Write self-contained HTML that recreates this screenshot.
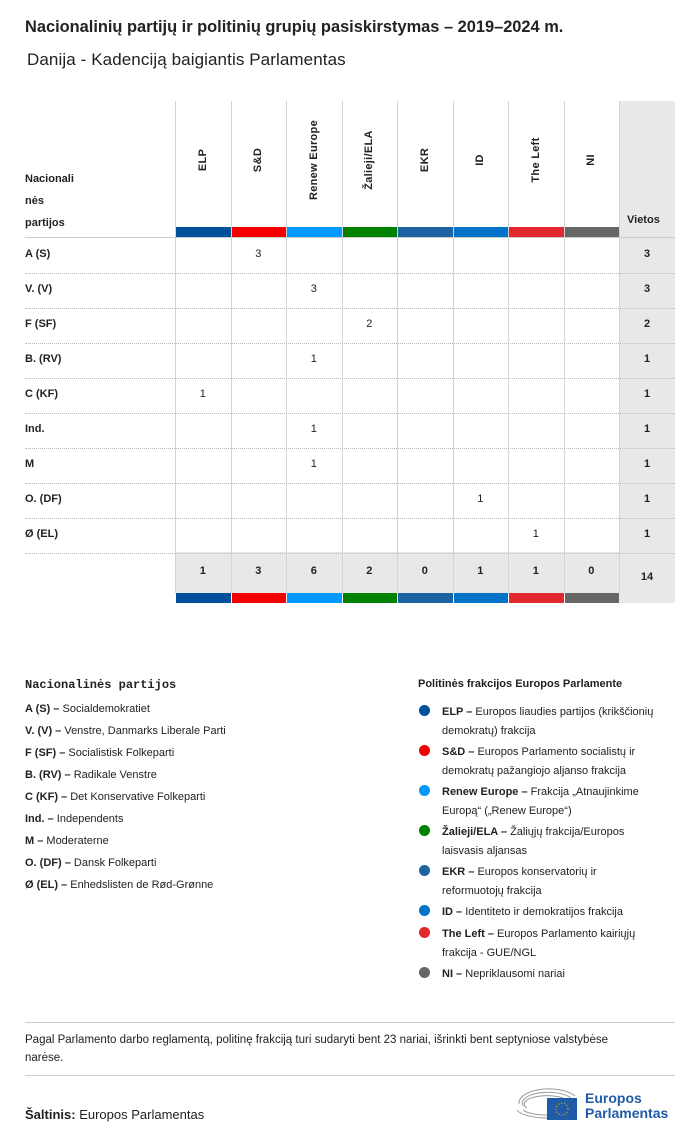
<!DOCTYPE html>
<html><head><meta charset="utf-8"><style>
body{margin:0;width:700px;height:1140px;background:#fff;font-family:"Liberation Sans",sans-serif;color:#222;position:relative;overflow:hidden}
.a{position:absolute}
.t{font-size:11px}
.b{font-weight:bold}
</style></head><body>
<div class="a b" style="left:25px;top:18px;font-size:16.4px">Nacionalinių partijų ir politinių grupių pasiskirstymas – 2019–2024 m.</div>
<div class="a" style="left:27px;top:50px;font-size:17px;letter-spacing:0.1px">Danija - Kadenciją baigiantis Parlamentas</div>
<div id="tbl"></div>
<div class="a b" style="left:25px;top:678px;font-size:12px;font-family:'Liberation Mono',monospace">Nacionalinės partijos</div>
<div id="pl"></div>
<div class="a b t" style="left:418px;top:678px">Politinės frakcijos Europos Parlamente</div>
<div id="gl"></div>
<div class="a" style="left:25px;top:1022px;width:650px;border-top:1px solid #ccc"></div>
<div class="a" style="left:25px;top:1031px;width:600px;line-height:18px;font-size:11.5px">Pagal Parlamento darbo reglamentą, politinę frakciją turi sudaryti bent 23 nariai, išrinkti bent septyniose valstybėse narėse.</div>
<div class="a" style="left:25px;top:1075px;width:650px;border-top:1px solid #ccc"></div>
<div class="a" style="left:25px;top:1107px;font-size:13px"><b>Šaltinis:</b> Europos Parlamentas</div>
<div class="a" style="left:515px;top:1084px">
<svg width="70" height="38"><g fill="none" stroke="#999" stroke-width="1"><path d="M4 20 A30 14 0 0 1 60 12"/><path d="M8 22 A26 11 0 0 1 56 14"/><path d="M12 24 A22 8 0 0 1 52 16"/><path d="M2 26 A32 10 0 0 0 34 34"/><path d="M8 26 A26 7 0 0 0 34 31"/></g><rect x="32" y="14" width="30" height="22" fill="#1f5ba8"/><circle cx="47" cy="25" r="6" fill="none" stroke="#fc0" stroke-dasharray="1 2"/></svg></div>
<div class="a b" style="left:585px;top:1091px;font-size:14px;color:#1f5ba8;line-height:15px">Europos<br>Parlamentas</div>
<script>
const groups=["ELP","S&D","Renew Europe","Žalieji/ELA","EKR","ID","The Left","NI"];
const colors=["#00519b","#f40000","#0099ff","#008200","#1c64a1","#0073c8","#e1282d","#666666"];
const parties=["A (S)","V. (V)","F (SF)","B. (RV)","C (KF)","Ind.","M","O. (DF)","Ø (EL)"];
const seats=[[0,3,0,0,0,0,0,0],[0,0,3,0,0,0,0,0],[0,0,0,2,0,0,0,0],[0,0,1,0,0,0,0,0],[1,0,0,0,0,0,0,0],[0,0,1,0,0,0,0,0],[0,0,1,0,0,0,0,0],[0,0,0,0,0,1,0,0],[0,0,0,0,0,0,1,0]];
const partyNames=["Socialdemokratiet","Venstre, Danmarks Liberale Parti","Socialistisk Folkeparti","Radikale Venstre","Det Konservative Folkeparti","Independents","Moderaterne","Dansk Folkeparti","Enhedslisten de Rød-Grønne"];
const groupDesc=["Europos liaudies partijos (krikščionių<br>demokratų) frakcija","Europos Parlamento socialistų ir<br>demokratų pažangiojo aljanso frakcija","Frakcija „Atnaujinkime<br>Europą“ („Renew Europe“)","Žaliųjų frakcija/Europos<br>laisvasis aljansas","Europos konservatorių ir<br>reformuotojų frakcija","Identiteto ir demokratijos frakcija","Europos Parlamento kairiųjų<br>frakcija - GUE/NGL","Nepriklausomi nariai"];
const T=document.getElementById('tbl');
const X0=175,CW=55.5,Y0=238,RH=35;
function d(st,txt,name){const e=document.createElement('div');e.className='a';e.style.cssText=st;if(txt!==undefined)e.innerHTML=txt;


T.appendChild(e);return e;}
d(`left:619px;top:101px;width:56px;height:502px;background:#e8e8e8`,'','seats-column-bg');
d(`left:175px;top:552px;width:444px;height:41px;background:#e8e8e8`,'','totals-row-bg');
for(let i=0;i<=8;i++)d(`left:${X0+i*CW}px;top:101px;width:1px;height:492px;background:#d4d4d4`,'','col-divider');
d(`left:25px;top:237px;width:650px;height:1px;background:#ccc`,'','header-line');
d(`left:25px;top:168px;font-size:11px;font-weight:bold;line-height:22px`,'Nacionali<br>nės<br>partijos','row-header-title');
d(`left:627px;top:214px;font-size:11px;font-weight:bold`,'Vietos','seats-header');
const tot=groups.map((g,j)=>seats.reduce((s,r)=>s+r[j],0));
groups.forEach((g,j)=>{
 const cx=X0+j*CW+CW/2;
 d(`left:${cx-7}px;top:160px;width:14px;writing-mode:vertical-rl;transform:translateY(-50%) rotate(180deg);font-size:11px;font-weight:bold;line-height:14px;white-space:nowrap;letter-spacing:0.3px`,g.replace('&','&amp;'),'group-label');
 d(`left:${X0+j*CW+1}px;top:227px;width:${CW-1}px;height:10px;background:${colors[j]}`,'','group-color-bar');
 d(`left:${X0+j*CW+1}px;top:593px;width:${CW-1}px;height:10px;background:${colors[j]}`,'','group-color-bar-bottom');
 d(`left:${X0+j*CW}px;top:565px;width:${CW}px;text-align:center;font-size:11px;font-weight:bold`,tot[j],'group-total');
});
parties.forEach((p,i)=>{
 const y=Y0+i*RH;
 d(`left:25px;top:${y+RH}px;width:650px;border-top:1px dotted #bbb`,'','row-divider');
 d(`left:25px;top:${y+10}px;font-size:11px;font-weight:bold`,p,'party-row-label');
 seats[i].forEach((v,j)=>{if(v)d(`left:${X0+j*CW}px;top:${y+10}px;width:${CW}px;text-align:center;font-size:11px`,v,'seat-cell');});
 d(`left:619px;top:${y+10}px;width:56px;text-align:center;font-size:11px;font-weight:bold`,seats[i].reduce((a,b)=>a+b,0),'party-seat-total');
});
d(`left:619px;top:571px;width:56px;text-align:center;font-size:11px;font-weight:bold`,tot.reduce((a,b)=>a+b,0),'grand-total');
parties.forEach((p,i)=>{d(`left:25px;top:${703+i*22}px;font-size:11px`,`<b>${p} –</b> ${partyNames[i]}`,'party-legend-entry');});
const gy=[703,743,783,823,863,903,925,965];
groups.forEach((g,j)=>{
 d(`left:419px;top:${gy[j]+2}px;width:11px;height:11px;border-radius:50%;background:${colors[j]}`,'','group-legend-dot');
 d(`left:442px;top:${gy[j]}px;font-size:11px;line-height:19px`,`<b>${g.replace('&','&amp;')} –</b> ${groupDesc[j]}`,'group-legend-entry');
});
</script>
</body></html>
